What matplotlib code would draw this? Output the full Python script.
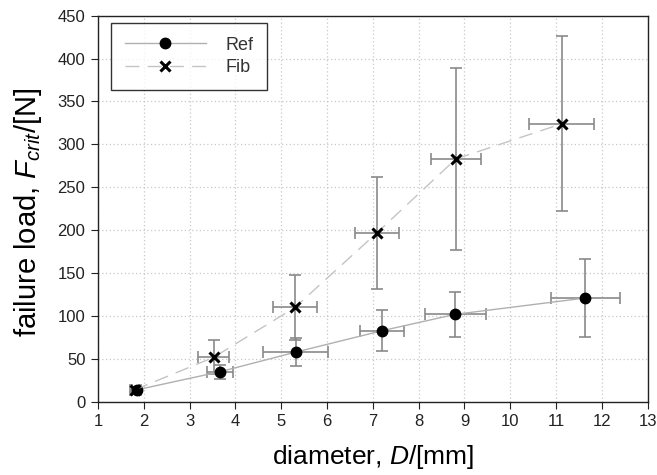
import matplotlib.pyplot as plt

plt.rcParams['font.family'] = ['Liberation Sans', 'DejaVu Sans']
plt.rcParams['mathtext.fontset'] = 'custom'
plt.rcParams['mathtext.it'] = 'Liberation Sans:italic'
plt.rcParams['mathtext.rm'] = 'Liberation Sans'

# Ref series
ref_d = [1.85, 3.66, 5.32, 7.21, 8.80, 11.64]
ref_d_err = [0.10, 0.28, 0.71, 0.48, 0.66, 0.76]
ref_f = [14, 35, 58, 83, 102, 121]
ref_f_err = [3, 8, 16, 24, 26, 45]

# Fib series
fib_d = [1.80, 3.53, 5.30, 7.09, 8.81, 11.12]
fib_d_err = [0.10, 0.34, 0.48, 0.48, 0.54, 0.71]
fib_f = [14, 52, 110, 197, 283, 324]
fib_f_err = [3, 20, 38, 65, 106, 102]

fig = plt.figure(figsize=(6.57, 4.75), dpi=100)
ax = fig.add_axes([0.149, 0.154, 0.837, 0.813])

ebar = dict(ecolor='#8a8a8a', elinewidth=1.2, capsize=4, capthick=1.2)
ax.errorbar(ref_d, ref_f, xerr=ref_d_err, yerr=ref_f_err, fmt='none', **ebar)
ax.errorbar(fib_d, fib_f, xerr=fib_d_err, yerr=fib_f_err, fmt='none', **ebar)
ax.plot(ref_d, ref_f, color='#b0b0b0', lw=1.0, ls='-', marker='o', ms=7.5,
        mfc='black', mec='black', label='Ref')
ax.plot(fib_d, fib_f, color='#c4c4c4', lw=1.0, ls=(0, (10, 6)), marker='x', ms=7,
        mew=2.2, mec='black', label='Fib')

ax.set_xlim(1, 13)
ax.set_ylim(0, 450)
ax.set_xticks(range(1, 14))
ax.set_yticks(range(0, 451, 50))
ax.grid(True, ls=(0, (1, 2)), color='#c8c8c8', lw=0.9)
ax.tick_params(direction='out', length=5, labelsize=12, colors='#222222',
               top=False, right=False, pad=4)
for s in ax.spines.values():
    s.set_linewidth(1.0)
    s.set_color('#222222')

ax.set_xlabel('diameter, $\\mathit{D}$/[mm]', fontsize=19, labelpad=10)
ax.set_ylabel('failure load, $\\mathit{F_{crit}}$/[N]', fontsize=21)
ax.yaxis.set_label_coords(-0.098, 0.49)

leg = ax.legend(loc='upper left', fontsize=13, frameon=True, fancybox=False,
                edgecolor='black', markerfirst=True, handlelength=4.5,
                handletextpad=1.1, borderpad=0.75, labelspacing=0.3,
                borderaxespad=0, bbox_to_anchor=(0.024, 0.981))
leg.get_frame().set_linewidth(1.0)
for t in leg.get_texts():
    t.set_color('#333333')

fig.savefig('out.png', dpi=100)
